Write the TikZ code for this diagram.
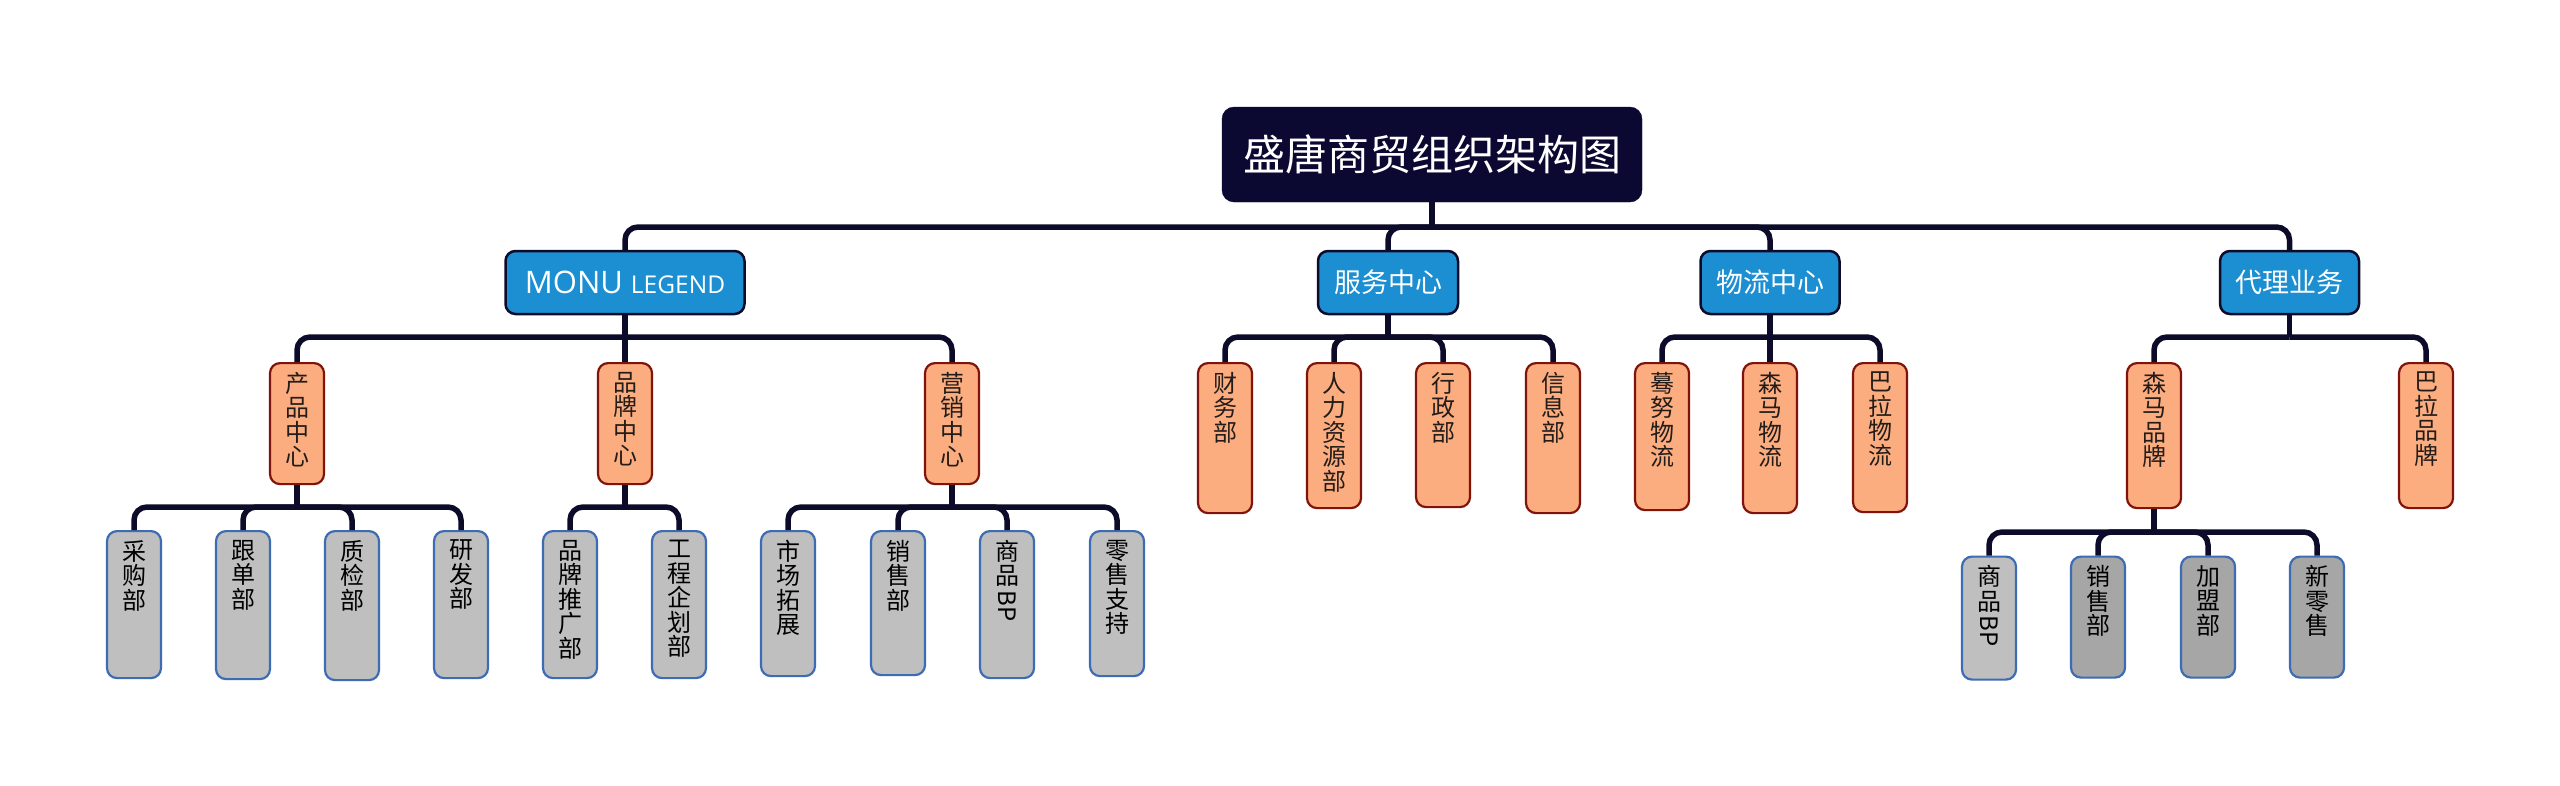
\documentclass[tikz,border=0pt]{standalone}
\usepackage{fontspec}
\usepackage{graphicx}
\setmainfont{Noto Sans CJK SC}
\newfontfamily\latinf{Open Sans}
\definecolor{lnc}{RGB}{13,11,42}
\definecolor{titlec}{RGB}{11,8,49}
\definecolor{bluec}{RGB}{27,143,210}
\definecolor{orangec}{RGB}{252,173,127}
\definecolor{redc}{RGB}{128,20,12}
\definecolor{grayl}{RGB}{191,191,191}
\definecolor{grayd}{RGB}{166,166,166}
\definecolor{bluebd}{RGB}{61,108,180}
\definecolor{txtc}{RGB}{35,28,25}
\newcommand\vt[2]{\parbox[c][#1][t]{54pt}{\centering\fontsize{24}{24.5}\selectfont\vspace*{9pt}#2\par}}
\newcommand\bp{\raisebox{19pt}{\rotatebox{-90}{BP}}}
\tikzset{
  conn/.style={draw=lnc, line width=5.5pt, rounded corners=13pt},
  straight/.style={draw=lnc, line width=5.5pt},
  titlebox/.style={fill=titlec, draw=titlec, rounded corners=12pt, minimum width=420pt, minimum height=95pt, text=white, font=\fontsize{42}{44}\selectfont, inner sep=0pt},
  bluebox/.style={fill=bluec, draw=lnc, line width=2.5pt, rounded corners=10pt, minimum height=63pt, text=white, font=\fontsize{27}{28}\selectfont, inner sep=0pt},
  obox/.style={fill=orangec, draw=redc, line width=2.2pt, rounded corners=10pt, inner sep=0pt, anchor=north, text=txtc},
  gbox/.style={fill=grayl, draw=bluebd, line width=2.2pt, rounded corners=10pt, inner sep=0pt, anchor=north, text=black},
  gboxd/.style={gbox, fill=grayd},
}
\begin{document}
\begin{tikzpicture}[x=1pt,y=1pt]
\useasboundingbox[fill=white] (0,0) rectangle (2560,-785);
% root
\node[titlebox] (root) at (1432,-154.5) {盛唐商贸组织架构图};
% level 1
\node[bluebox, minimum width=239pt] (monu) at (625,-282.5) {{\latinf\fontsize{31}{33}\selectfont MONU \fontsize{24.5}{26}\selectfont LEGEND}};
\node[bluebox, minimum width=140pt] (fw) at (1388,-282.5) {服务中心};
\node[bluebox, minimum width=139pt] (wl) at (1770,-282.5) {物流中心};
\node[bluebox, minimum width=139pt] (dl) at (2289.5,-282.5) {代理业务};
% level 2 under MONU
\node[obox] (p1) at (297,-362) {\vt{121pt}{产\\品\\中\\心}};
\node[obox] (p2) at (625,-362) {\vt{121pt}{品\\牌\\中\\心}};
\node[obox] (p3) at (952,-362) {\vt{121pt}{营\\销\\中\\心}};
% level 3 under 产品中心
\node[gbox] (c1) at (134,-530) {\vt{147pt}{采\\购\\部}};
\node[gbox] (c2) at (243,-530) {\vt{148pt}{跟\\单\\部}};
\node[gbox] (c3) at (352,-530) {\vt{149pt}{质\\检\\部}};
\node[gbox] (c4) at (461,-530) {\vt{147pt}{研\\发\\部}};
% under 品牌中心
\node[gbox] (b1) at (570,-530) {\vt{147pt}{品\\牌\\推\\广\\部}};
\node[gbox] (b2) at (679,-530) {\vt{147pt}{工\\程\\企\\划\\部}};
% under 营销中心
\node[gbox] (m1) at (788,-530) {\vt{145pt}{市\\场\\拓\\展}};
\node[gbox] (m2) at (898,-530) {\vt{144pt}{销\\售\\部}};
\node[gbox] (m3) at (1007,-530) {\vt{147pt}{商\\品\\\bp}};
\node[gbox] (m4) at (1117,-530) {\vt{145pt}{零\\售\\支\\持}};
% service
\node[obox] (s1) at (1225,-362) {\vt{150pt}{财\\务\\部}};
\node[obox] (s2) at (1334,-362) {\vt{145pt}{人\\力\\资\\源\\部}};
\node[obox] (s3) at (1443,-362) {\vt{144pt}{行\\政\\部}};
\node[obox] (s4) at (1553,-362) {\vt{150pt}{信\\息\\部}};
% logistics
\node[obox] (l1) at (1662,-362) {\vt{147pt}{蓦\\努\\物\\流}};
\node[obox] (l2) at (1770,-362) {\vt{150pt}{森\\马\\物\\流}};
\node[obox] (l3) at (1880,-362) {\vt{149pt}{巴\\拉\\物\\流}};
% agency
\node[obox] (a1) at (2154,-362) {\vt{145pt}{森\\马\\品\\牌}};
\node[obox] (a2) at (2426,-362) {\vt{145pt}{巴\\拉\\品\\牌}};
% under 森马品牌
\node[gbox] (d1) at (1989,-555.5) {\vt{123pt}{商\\品\\\bp}};
\node[gboxd] (d2) at (2098,-555.5) {\vt{121pt}{销\\售\\部}};
\node[gboxd] (d3) at (2208,-555.5) {\vt{121pt}{加\\盟\\部}};
\node[gboxd] (d4) at (2317,-555.5) {\vt{121pt}{新\\零\\售}};
% bus junctions
\coordinate (j0) at (root.south |- 0,-227);
\coordinate (j1) at (monu.south |- 0,-337);
\coordinate (j2) at (fw.south |- 0,-337);
\coordinate (j3) at (wl.south |- 0,-337);
\coordinate (j4) at (dl.south |- 0,-337);
\coordinate (j5) at (p1.south |- 0,-507);
\coordinate (j6) at (p2.south |- 0,-507);
\coordinate (j7) at (p3.south |- 0,-507);
\coordinate (j8) at (a1.south |- 0,-532);
% connectors
\draw[straight] (root.south) -- (j0);
\foreach \n in {monu,fw,wl,dl} \draw[conn] (j0) -| (\n.north);
\draw[straight] (monu.south) -- (j1);
\draw[conn] (j1) -| (p1.north);
\draw[straight] (j1) -- (p2.north);
\draw[conn] (j1) -| (p3.north);
\draw[straight] (fw.south) -- (j2);
\foreach \n in {s1,s2,s3,s4} \draw[conn] (j2) -| (\n.north);
\draw[straight] (wl.south) -- (j3);
\draw[conn] (j3) -| (l1.north);
\draw[straight] (j3) -- (l2.north);
\draw[conn] (j3) -| (l3.north);
\draw[straight] (dl.south) -- (j4);
\foreach \n in {a1,a2} \draw[conn] (j4) -| (\n.north);
\draw[straight] (p1.south) -- (j5);
\foreach \n in {c1,c2,c3,c4} \draw[conn] (j5) -| (\n.north);
\draw[straight] (p2.south) -- (j6);
\foreach \n in {b1,b2} \draw[conn] (j6) -| (\n.north);
\draw[straight] (p3.south) -- (j7);
\foreach \n in {m1,m2,m3,m4} \draw[conn] (j7) -| (\n.north);
\draw[straight] (a1.south) -- (j8);
\foreach \n in {d1,d2,d3,d4} \draw[conn] (j8) -| (\n.north);
\end{tikzpicture}
\end{document}
